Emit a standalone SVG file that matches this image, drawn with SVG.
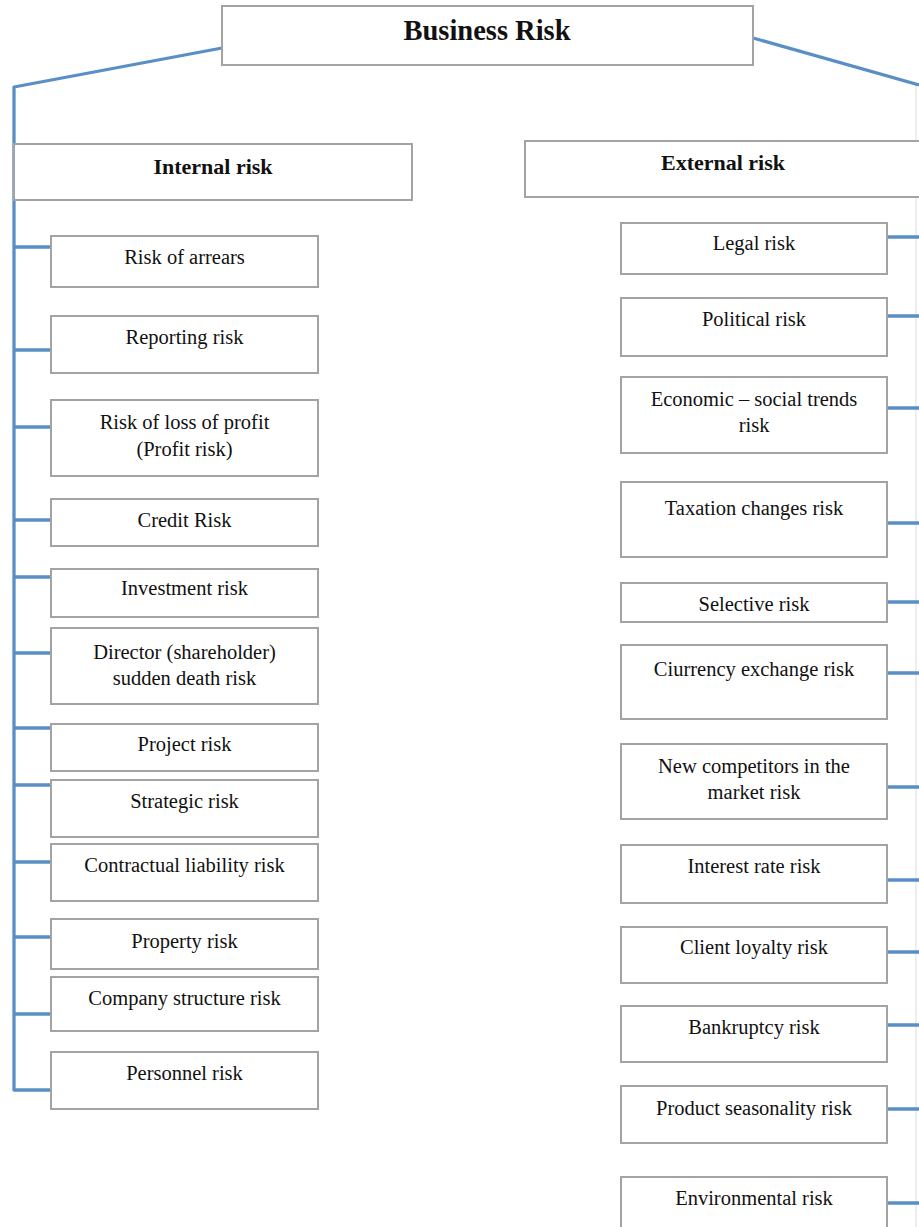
<svg xmlns="http://www.w3.org/2000/svg" width="919" height="1227" viewBox="0 0 919 1227">
<style>
.box{fill:#fff;stroke:#a3a3a3;stroke-width:2}
.t{font-family:"Liberation Serif","Times New Roman",serif;font-size:20.5px;fill:#111;text-anchor:middle}
.h{font-family:"Liberation Serif","Times New Roman",serif;font-weight:bold;font-size:22px;fill:#111;text-anchor:middle}
.c{fill:none;stroke:#5a8fc6;stroke-width:3.3;stroke-linejoin:round}
</style>
<rect width="919" height="1227" fill="#fff"/>
<line x1="916" y1="85" x2="916" y2="1227" stroke="#eeeeee" stroke-width="2"/>
<g id="connectors">
<path class="c" d="M222,48 L14,87 L14,1090 L51,1090"/>
<path class="c" d="M753,38 L919,85"/>
<path class="c" d="M14,247 H51 M14,350 H51 M14,427 H51 M14,520 H51 M14,577 H51 M14,653 H51 M14,728 H51 M14,785 H51 M14,862 H51 M14,937 H51 M14,1014 H51"/>
<path class="c" d="M887,237 H920 M887,316 H920 M887,408 H920 M887,523 H920 M887,602 H920 M887,673 H920 M887,787 H920 M887,880 H920 M887,952 H920 M887,1025 H920 M887,1109 H920 M887,1203 H920"/>
</g>
<g id="business-risk"><rect class="box" x="222" y="6" width="531" height="59"/><text class="h" style="font-size:28.5px" x="487" y="40">Business Risk</text></g>
<g id="internal-risk"><rect class="box" x="14" y="144" width="398" height="56"/><text class="h" x="213" y="174">Internal risk</text></g>
<g id="external-risk"><rect class="box" x="525" y="141" width="400" height="56"/><text class="h" x="723" y="170">External risk</text></g>

<g id="risk-of-arrears"><rect class="box" x="51" y="236" width="267" height="51"/><text class="t" x="184.5" y="264">Risk of arrears</text></g>
<g id="reporting-risk"><rect class="box" x="51" y="316" width="267" height="57"/><text class="t" x="184.5" y="344">Reporting risk</text></g>
<g id="profit-risk"><rect class="box" x="51" y="400" width="267" height="76"/><text class="t" x="184.5" y="429">Risk of loss of profit</text><text class="t" x="184.5" y="456">(Profit risk)</text></g>
<g id="credit-risk"><rect class="box" x="51" y="499" width="267" height="47"/><text class="t" x="184.5" y="527">Credit Risk</text></g>
<g id="investment-risk"><rect class="box" x="51" y="569" width="267" height="48"/><text class="t" x="184.5" y="595">Investment risk</text></g>
<g id="director-risk"><rect class="box" x="51" y="628" width="267" height="76"/><text class="t" x="184.5" y="659">Director (shareholder)</text><text class="t" x="184.5" y="685">sudden death risk</text></g>
<g id="project-risk"><rect class="box" x="51" y="724" width="267" height="47"/><text class="t" x="184.5" y="751">Project risk</text></g>
<g id="strategic-risk"><rect class="box" x="51" y="780" width="267" height="57"/><text class="t" x="184.5" y="808">Strategic risk</text></g>
<g id="contractual-risk"><rect class="box" x="51" y="844" width="267" height="57"/><text class="t" x="184.5" y="872">Contractual liability risk</text></g>
<g id="property-risk"><rect class="box" x="51" y="919" width="267" height="50"/><text class="t" x="184.5" y="948">Property risk</text></g>
<g id="company-structure-risk"><rect class="box" x="51" y="977" width="267" height="54"/><text class="t" x="184.5" y="1005">Company structure risk</text></g>
<g id="personnel-risk"><rect class="box" x="51" y="1052" width="267" height="57"/><text class="t" x="184.5" y="1080">Personnel risk</text></g>

<g id="legal-risk"><rect class="box" x="621" y="223" width="266" height="51"/><text class="t" x="754" y="250">Legal risk</text></g>
<g id="political-risk"><rect class="box" x="621" y="298" width="266" height="58"/><text class="t" x="754" y="326">Political risk</text></g>
<g id="economic-risk"><rect class="box" x="621" y="377" width="266" height="76"/><text class="t" x="754" y="406">Economic – social trends</text><text class="t" x="754" y="432">risk</text></g>
<g id="taxation-risk"><rect class="box" x="621" y="482" width="266" height="75"/><text class="t" x="754" y="515">Taxation changes risk</text></g>
<g id="selective-risk"><rect class="box" x="621" y="583" width="266" height="39"/><text class="t" x="754" y="611">Selective risk</text></g>
<g id="currency-risk"><rect class="box" x="621" y="645" width="266" height="74"/><text class="t" x="754" y="676">Ciurrency exchange risk</text></g>
<g id="competitors-risk"><rect class="box" x="621" y="744" width="266" height="75"/><text class="t" x="754" y="773">New competitors in the</text><text class="t" x="754" y="799">market risk</text></g>
<g id="interest-rate-risk"><rect class="box" x="621" y="845" width="266" height="58"/><text class="t" x="754" y="873">Interest rate risk</text></g>
<g id="client-loyalty-risk"><rect class="box" x="621" y="927" width="266" height="56"/><text class="t" x="754" y="954">Client loyalty risk</text></g>
<g id="bankruptcy-risk"><rect class="box" x="621" y="1006" width="266" height="56"/><text class="t" x="754" y="1034">Bankruptcy risk</text></g>
<g id="seasonality-risk"><rect class="box" x="621" y="1086" width="266" height="57"/><text class="t" x="754" y="1115">Product seasonality risk</text></g>
<g id="environmental-risk"><rect class="box" x="621" y="1177" width="266" height="60"/><text class="t" x="754" y="1205">Environmental risk</text></g>
</svg>
